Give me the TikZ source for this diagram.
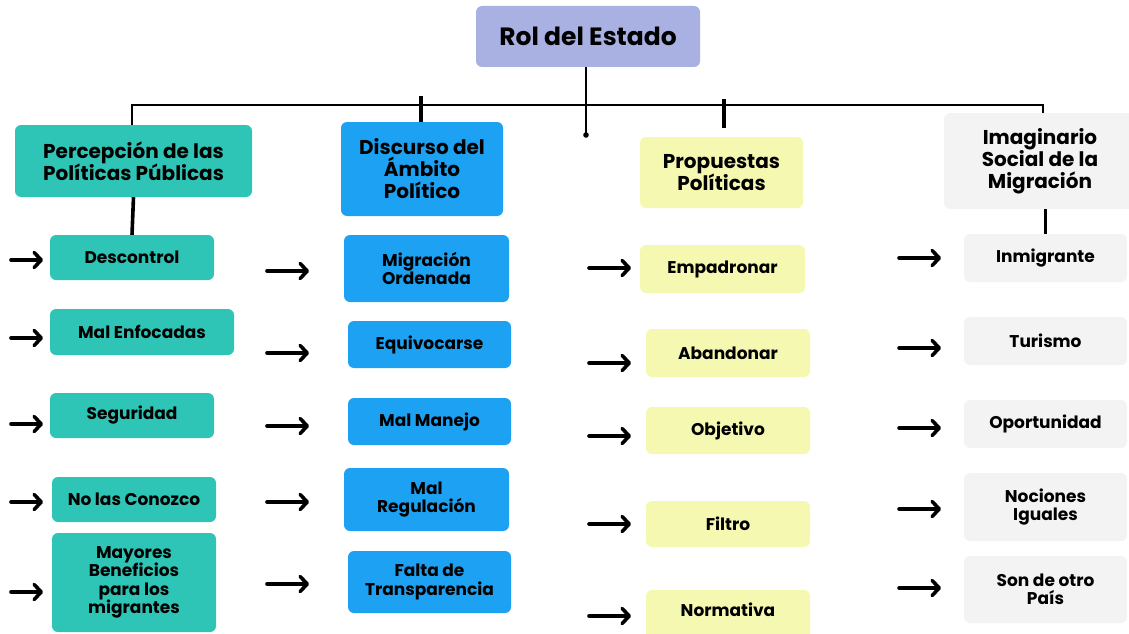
\documentclass[tikz,border=0pt]{standalone}
\usepackage{fontspec}
\setmainfont{Poppins}
\usetikzlibrary{arrows.meta}
\definecolor{titlec}{RGB}{168,177,225}
\definecolor{tealc}{RGB}{46,196,182}
\definecolor{bluec}{RGB}{29,161,242}
\definecolor{yelc}{RGB}{245,248,176}
\definecolor{grayc}{RGB}{243,243,243}
\begin{document}
\begin{tikzpicture}[x=1pt,y=-1pt,
  box/.style={rounded corners=6pt, draw=none, align=center, inner sep=0pt,
    font=\bfseries\fontsize{17}{18.5}\selectfont},
  head/.style={box, font=\bfseries\fontsize{20}{22}\selectfont},
  tealbox/.style={box, fill=tealc},
  bluebox/.style={box, fill=bluec},
  yelbox/.style={box, fill=yelc},
  graybox/.style={box, fill=grayc},
  arr/.style={line width=3.6pt, line cap=round,
    -{Straight Barb[length=7pt,width=15pt,line cap=round,line join=round]}},
  thin/.style={line width=1.8pt},
  tick/.style={line width=3.6pt}]
\useasboundingbox (0,0) rectangle (1129,634);
\clip (0,0) rectangle (1129,634);

% title
\node[box, fill=titlec, minimum width=224pt, minimum height=61pt,
  font=\bfseries\fontsize{25}{28}\selectfont] (title) at (588,36.5) {Rol del Estado};

% headers
\node[head, fill=tealc, minimum width=237pt, minimum height=72pt] (percep) at (133.5,161)
  {Percepción de las\\Políticas Públicas};
\node[head, fill=bluec, minimum width=162pt, minimum height=94pt] (discurso) at (422,169)
  {Discurso del\\Ámbito\\Político};
\node[head, fill=yelc, minimum width=163pt, minimum height=71pt] (propu) at (721.5,172.5)
  {Propuestas\\Políticas};
\node[head, fill=grayc, minimum width=192pt, minimum height=96pt] (imag) at (1040,161)
  {Imaginario\\Social de la\\Migración};

% column 1
\node[tealbox, minimum width=164pt, minimum height=45pt] (desc) at (132,257.5) {Descontrol};
\node[tealbox, minimum width=184pt, minimum height=46pt] (malenf) at (142,332) {Mal Enfocadas};
\node[tealbox, minimum width=164pt, minimum height=45pt] (segur) at (132,415.5) {Seguridad};
\node[tealbox, minimum width=164pt, minimum height=45pt] (nolas) at (134,499.5) {No las Conozco};
\node[tealbox, minimum width=164pt, minimum height=99pt] (mayores) at (134,582.5)
  {Mayores\\Beneficios\\para los\\migrantes};

% column 2
\node[bluebox, minimum width=165pt, minimum height=67pt] (migord) at (426.5,268.5) {Migración\\Ordenada};
\node[bluebox, minimum width=163pt, minimum height=47pt] (equiv) at (429.5,344.5) {Equivocarse};
\node[bluebox, minimum width=163pt, minimum height=47pt] (malman) at (429.5,421.5) {Mal Manejo};
\node[bluebox, minimum width=165pt, minimum height=63pt] (malreg) at (426.5,499.5) {Mal\\Regulación};
\node[bluebox, minimum width=163pt, minimum height=62pt] (falta) at (429.5,582) {Falta de\\Transparencia};

% column 3
\node[yelbox, minimum width=165pt, minimum height=48pt] (empad) at (722.5,269) {Empadronar};
\node[yelbox, minimum width=164pt, minimum height=48pt] (aband) at (728,353) {Abandonar};
\node[yelbox, minimum width=164pt, minimum height=47pt] (objet) at (728,430.5) {Objetivo};
\node[yelbox, minimum width=164pt, minimum height=46pt] (filtro) at (728,524) {Filtro};
\node[yelbox, minimum width=164pt, minimum height=56pt] (normat) at (728,618) {};
\node[font=\bfseries\fontsize{17}{18.5}\selectfont, inner sep=0pt] (normtxt) at (728,610) {Normativa};

% column 4
\node[graybox, minimum width=163pt, minimum height=48pt] (inmig) at (1045.5,258) {Inmigrante};
\node[graybox, minimum width=163pt, minimum height=48pt] (turis) at (1045.5,341) {Turismo};
\node[graybox, minimum width=163pt, minimum height=48pt] (oport) at (1045.5,424) {Oportunidad};
\node[graybox, minimum width=163pt, minimum height=68pt] (noc) at (1045.5,507) {Nociones\\Iguales};
\node[graybox, minimum width=163pt, minimum height=67pt] (son) at (1045.5,589.5) {Son de otro\\País};

% tree connectors
\coordinate (dot) at (586,135);
\coordinate (barL) at (132,105);
\coordinate (barR) at (1043,105);
\coordinate (tk1) at (421,96);
\coordinate (tk2) at (724,99);
\draw[thin] (title.south -| dot) -- (dot);
\fill (dot) circle (2.8pt);
\draw[thin] (barL |- percep.north) -- (barL) -- (barR) -- (barR |- imag.north);
\draw[tick] (tk1) -- (tk1 |- discurso.north);
\draw[tick] (tk2) -- (724,128);
\draw[tick] (percep.south) -- (desc.north);
\draw[tick] (inmig.north |- imag.south) -- (inmig.north);

% arrows column 1
\foreach \n/\y in {1/260,2/338,3/424,4/502,5/592}{
  \coordinate (p\n s) at (11,\y); \coordinate (p\n e) at (43,\y);
  \draw[arr] (p\n s) -- (p\n e);}
% arrows column 2
\foreach \n/\y in {1/271,2/353,3/426,4/502,5/584}{
  \coordinate (d\n s) at (267,\y); \coordinate (d\n e) at (309,\y);
  \draw[arr] (d\n s) -- (d\n e);}
% arrows column 3
\foreach \n/\y in {1/268,2/363,3/436,4/524,5/616}{
  \coordinate (q\n s) at (589,\y); \coordinate (q\n e) at (631,\y);
  \draw[arr] (q\n s) -- (q\n e);}
% arrows column 4
\foreach \n/\y in {1/258,2/348,3/428,4/509,5/588}{
  \coordinate (i\n s) at (899,\y); \coordinate (i\n e) at (941,\y);
  \draw[arr] (i\n s) -- (i\n e);}
\end{tikzpicture}
\end{document}
